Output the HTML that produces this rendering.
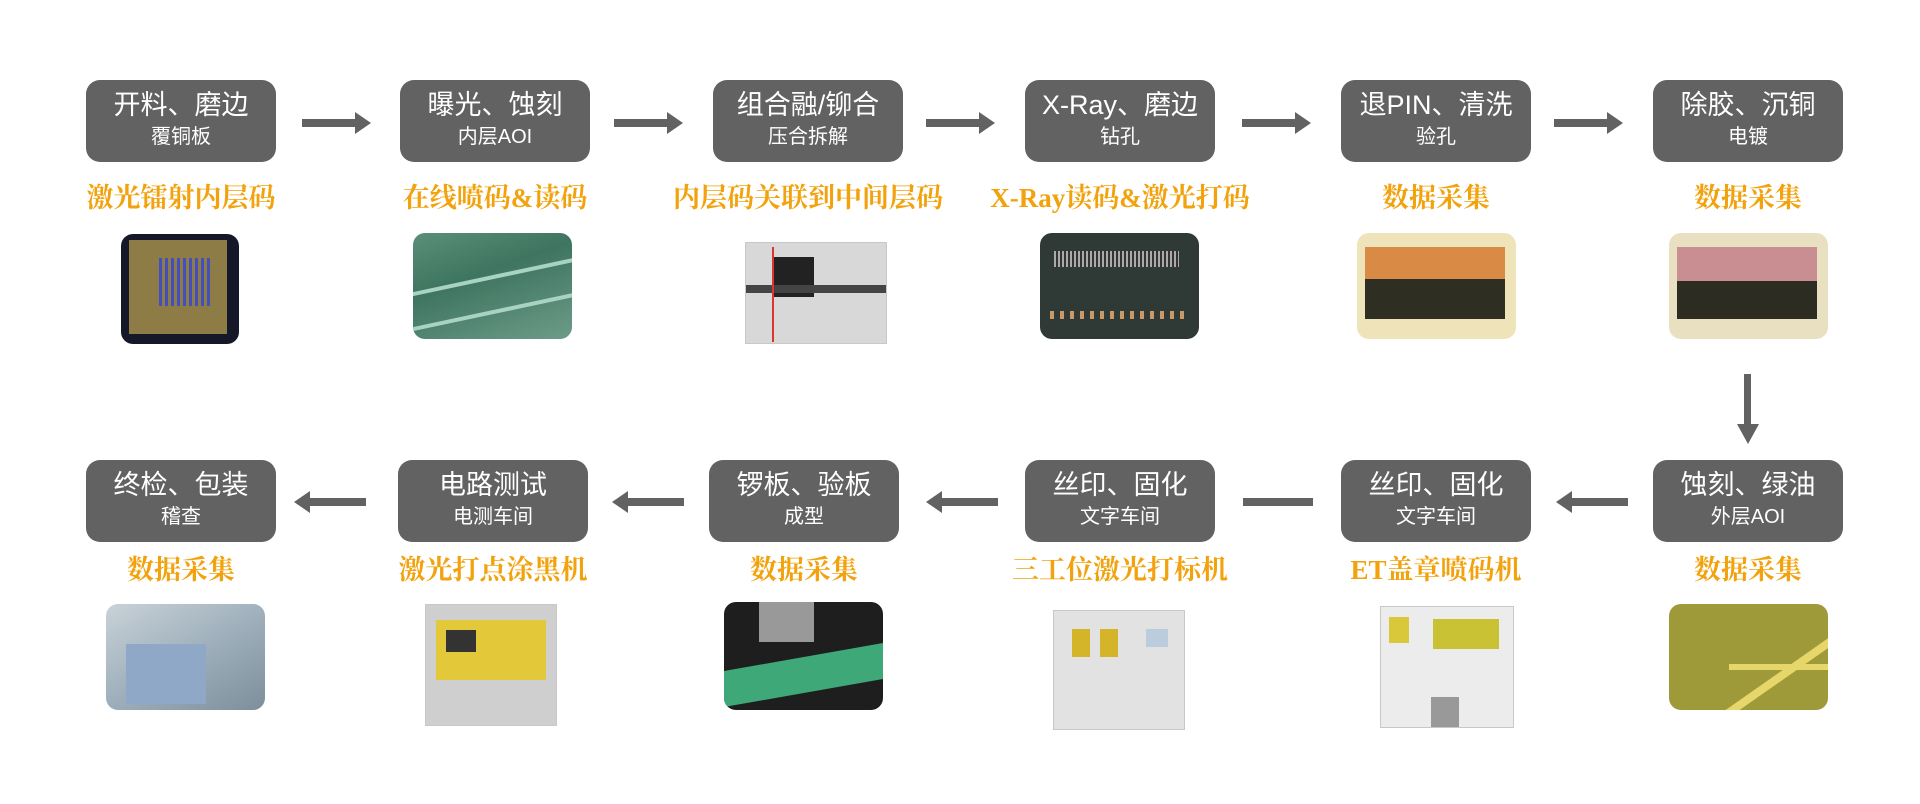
<!DOCTYPE html>
<html><head><meta charset="utf-8"><style>
body{margin:0;width:1920px;height:804px;background:#fff;position:relative;overflow:hidden;font-family:"Liberation Sans","Noto Sans CJK SC",sans-serif}
.b{position:absolute;width:190px;height:82px;background:#626262;border-radius:14px;color:#fff;text-align:center}
.b .t{font-size:27px;line-height:30px;margin-top:10px}
.b .s{font-size:20px;line-height:26px;margin-top:4px}
.l{position:absolute;width:300px;text-align:center;color:#f2a20c;font-family:"Liberation Serif","Noto Serif CJK SC",serif;font-weight:bold;font-size:27px;line-height:30px}
.i{position:absolute;border-radius:12px;overflow:hidden}
.ar{position:absolute;height:8px;background:#626262}
.rh:after{content:"";position:absolute;right:-14px;top:-7px;border-left:16px solid #626262;border-top:11px solid transparent;border-bottom:11px solid transparent}
.lh:before{content:"";position:absolute;left:-14px;top:-7px;border-right:16px solid #626262;border-top:11px solid transparent;border-bottom:11px solid transparent}
.m{position:absolute;background:#e4e4e4;border:1px solid #c8c8c8}
</style></head><body>
<div class="b" style="left:86px;top:80px"><div class="t">开料、磨边</div><div class="s">覆铜板</div></div>
<div class="b" style="left:400px;top:80px"><div class="t">曝光、蚀刻</div><div class="s">内层AOI</div></div>
<div class="b" style="left:713px;top:80px"><div class="t">组合融/铆合</div><div class="s">压合拆解</div></div>
<div class="b" style="left:1025px;top:80px"><div class="t">X-Ray、磨边</div><div class="s">钻孔</div></div>
<div class="b" style="left:1341px;top:80px"><div class="t">退PIN、清洗</div><div class="s">验孔</div></div>
<div class="b" style="left:1653px;top:80px"><div class="t">除胶、沉铜</div><div class="s">电镀</div></div>
<div class="ar rh" style="left:302px;top:119px;width:55px"></div>
<div class="ar rh" style="left:614px;top:119px;width:55px"></div>
<div class="ar rh" style="left:926px;top:119px;width:55px"></div>
<div class="ar rh" style="left:1242px;top:119px;width:55px"></div>
<div class="ar rh" style="left:1554px;top:119px;width:55px"></div>
<div style="position:absolute;left:1744px;top:374px;width:7px;height:52px;background:#626262"></div>
<div style="position:absolute;left:1737px;top:424px;border-top:20px solid #626262;border-left:11px solid transparent;border-right:11px solid transparent"></div>
<div class="l" style="left:31px;top:183px">激光镭射内层码</div>
<div class="l" style="left:345px;top:183px">在线喷码&amp;读码</div>
<div class="l" style="left:658px;top:183px">内层码关联到中间层码</div>
<div class="l" style="left:970px;top:183px">X-Ray读码&amp;激光打码</div>
<div class="l" style="left:1286px;top:183px">数据采集</div>
<div class="l" style="left:1598px;top:183px">数据采集</div>
<div class="i" style="left:121px;top:234px;width:118px;height:110px;background:#151828"><div style="position:absolute;left:8px;top:6px;right:12px;bottom:10px;background:#8d7c45"><div style="position:absolute;left:30px;top:18px;width:52px;height:48px;background:repeating-linear-gradient(90deg,#3344dd 0 3px,transparent 3px 6px),#8d7c45;opacity:.8"></div></div></div>
<div class="i" style="left:413px;top:233px;width:159px;height:106px;background:linear-gradient(160deg,#5a8f78,#3e7560 40%,#6d9c89)"><div style="position:absolute;left:-20px;top:40px;width:220px;height:4px;background:#a8d3c2;transform:rotate(-12deg)"></div><div style="position:absolute;left:-20px;top:75px;width:220px;height:4px;background:#a8d3c2;transform:rotate(-12deg)"></div></div>
<div class="m" style="left:745px;top:242px;width:140px;height:100px;background:#d8d8d8"><div style="position:absolute;left:28px;top:14px;width:40px;height:40px;background:#222"></div><div style="position:absolute;left:0;top:42px;width:140px;height:8px;background:#444"></div><div style="position:absolute;left:26px;top:4px;width:2px;height:95px;background:#d33"></div></div>
<div class="i" style="left:1040px;top:233px;width:159px;height:106px;background:#2f3a36"><div style="position:absolute;left:14px;top:18px;width:125px;height:16px;background:repeating-linear-gradient(90deg,#aaa 0 2px,#333 2px 4px)"></div><div style="position:absolute;left:10px;top:78px;width:140px;height:8px;background:repeating-linear-gradient(90deg,#c96 0 4px,transparent 4px 10px)"></div></div>
<div class="i" style="left:1357px;top:233px;width:159px;height:106px;background:#efe3ba"><div style="position:absolute;left:8px;top:14px;width:140px;height:32px;background:#d98a45"></div><div style="position:absolute;left:8px;top:46px;width:140px;height:40px;background:#2e2e22"></div></div>
<div class="i" style="left:1669px;top:233px;width:159px;height:106px;background:#e9e0c2"><div style="position:absolute;left:8px;top:14px;width:140px;height:34px;background:#c88e92"></div><div style="position:absolute;left:8px;top:48px;width:140px;height:38px;background:#2c2c22"></div></div>
<div class="b" style="left:86px;top:460px"><div class="t">终检、包装</div><div class="s">稽查</div></div>
<div class="b" style="left:398px;top:460px"><div class="t">电路测试</div><div class="s">电测车间</div></div>
<div class="b" style="left:709px;top:460px"><div class="t">锣板、验板</div><div class="s">成型</div></div>
<div class="b" style="left:1025px;top:460px"><div class="t">丝印、固化</div><div class="s">文字车间</div></div>
<div class="b" style="left:1341px;top:460px"><div class="t">丝印、固化</div><div class="s">文字车间</div></div>
<div class="b" style="left:1653px;top:460px"><div class="t">蚀刻、绿油</div><div class="s">外层AOI</div></div>
<div class="ar lh" style="left:308px;top:498px;width:58px"></div>
<div class="ar lh" style="left:626px;top:498px;width:58px"></div>
<div class="ar lh" style="left:940px;top:498px;width:58px"></div>
<div class="ar" style="left:1243px;top:498px;width:70px"></div>
<div class="ar lh" style="left:1570px;top:498px;width:58px"></div>
<div class="l" style="left:31px;top:555px">数据采集</div>
<div class="l" style="left:343px;top:555px">激光打点涂黑机</div>
<div class="l" style="left:654px;top:555px">数据采集</div>
<div class="l" style="left:970px;top:555px">三工位激光打标机</div>
<div class="l" style="left:1286px;top:555px">ET盖章喷码机</div>
<div class="l" style="left:1598px;top:555px">数据采集</div>
<div class="i" style="left:106px;top:604px;width:159px;height:106px;background:linear-gradient(150deg,#c9d2d8,#9fb0bc 50%,#7d8f9a)"><div style="position:absolute;left:20px;top:40px;width:80px;height:60px;background:#8fa8c8"></div></div>
<div class="m" style="left:425px;top:604px;width:130px;height:120px;background:#cfcfcf"><div style="position:absolute;left:10px;top:15px;width:110px;height:60px;background:#e3c93a"></div><div style="position:absolute;left:20px;top:25px;width:30px;height:22px;background:#333"></div></div>
<div class="i" style="left:724px;top:602px;width:159px;height:108px;background:#1e1e1e"><div style="position:absolute;left:0;top:55px;width:159px;height:36px;background:#3fa878;transform:skewY(-10deg)"></div><div style="position:absolute;left:35px;top:0;width:55px;height:40px;background:#999"></div></div>
<div class="m" style="left:1053px;top:610px;width:130px;height:118px;background:#e2e2e2"><div style="position:absolute;left:18px;top:18px;width:18px;height:28px;background:#d4b52a"></div><div style="position:absolute;left:46px;top:18px;width:18px;height:28px;background:#d4b52a"></div><div style="position:absolute;left:92px;top:18px;width:22px;height:18px;background:#bcd"></div></div>
<div class="m" style="left:1380px;top:606px;width:132px;height:120px;background:#ececec"><div style="position:absolute;left:8px;top:10px;width:20px;height:26px;background:#d8c83a"></div><div style="position:absolute;left:52px;top:12px;width:66px;height:30px;background:#c8c234"></div><div style="position:absolute;left:50px;top:90px;width:28px;height:30px;background:#999"></div></div>
<div class="i" style="left:1669px;top:604px;width:159px;height:106px;background:#9e9a3a"><div style="position:absolute;left:10px;top:80px;width:170px;height:8px;background:#e7d66a;transform:rotate(-35deg)"></div><div style="position:absolute;left:60px;top:60px;width:100px;height:6px;background:#e7d66a"></div></div>
</body></html>
